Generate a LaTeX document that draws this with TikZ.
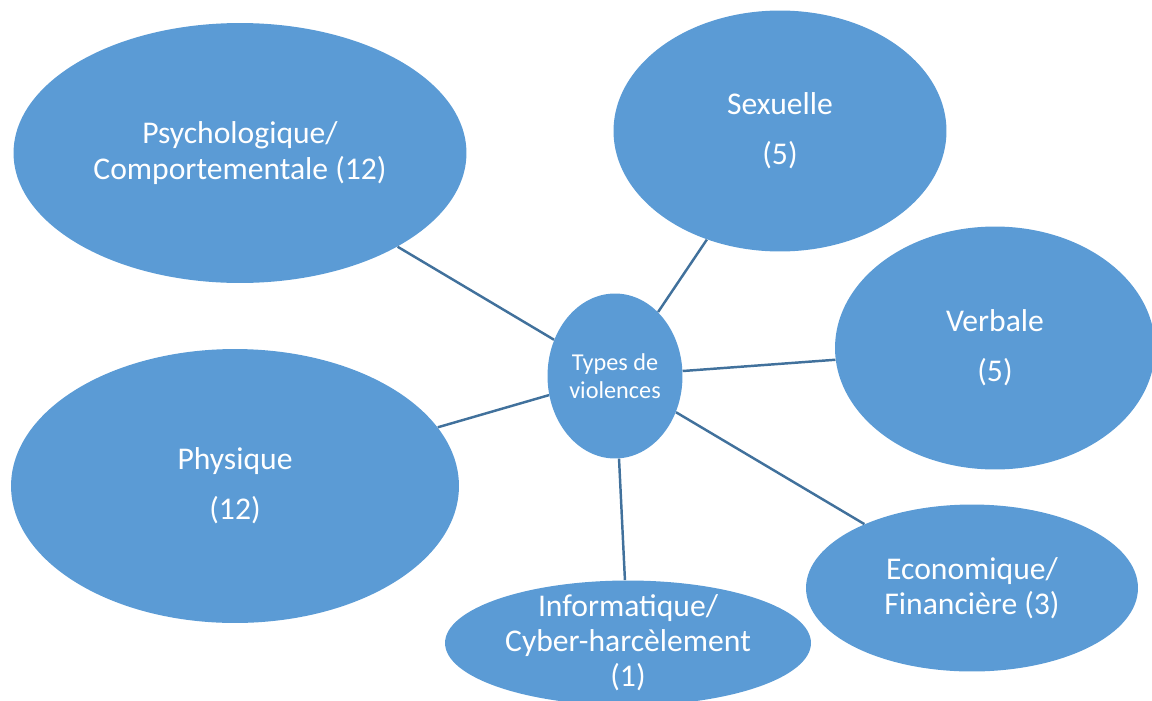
\documentclass[tikz,border=0pt]{standalone}
\usepackage{fontspec}
\setmainfont{Carlito}
\usepackage{xcolor}
\usetikzlibrary{shapes.geometric}
\definecolor{bulle}{HTML}{5B9BD5}
\definecolor{trait}{HTML}{41719C}

\begin{document}
\begin{tikzpicture}[x=0.02cm, y=-0.02cm,
    bulle/.style={ellipse, fill=bulle, inner sep=0pt},
    etiq/.style={text=white, align=center, font=\fontsize{18}{20}\selectfont},
    lien/.style={draw=trait, line width=1.4pt}]
				  \useasboundingbox (0,0) rectangle (1152,700);
				  \node[bulle, minimum width=9.06cm, minimum height=5.2cm] (psycho) at (240,153) {};
				  \node[bulle, minimum width=6.66cm, minimum height=4.82cm] (sexuelle) at (780,131) {};
				  \node[bulle, minimum width=6.4cm, minimum height=4.86cm] (verbale) at (995,348) {};
				  \node[bulle, minimum width=8.96cm, minimum height=5.48cm] (physique) at (235,486) {};
				  \node[bulle, minimum width=7.32cm, minimum height=2.5cm] (info) at (628,643) {};
				  \node[bulle, minimum width=6.64cm, minimum height=3.34cm] (eco) at (972,588) {};
				  \node[bulle, minimum width=2.7cm, minimum height=3.3cm] (centre) at (615,376) {};
				  \node[etiq] (psychoT) at (psycho) {Psychologique/\\Comportementale (12)};
				  \node[etiq] (sexuelleT) at (sexuelle) {Sexuelle\\[8.5pt](5)};
				  \node[etiq] (verbaleT) at (verbale) {Verbale\\[8.5pt](5)};
				  \node[etiq] (physiqueT) at (physique) {Physique\\[8.5pt](12)};
				  \node[etiq] (infoT) at (info) {Informatique/\\Cyber-harcèlement\\(1)};
				  \node[etiq] (ecoT) at (eco) {Economique/\\Financière (3)};
				  \node[etiq, font=\fontsize{13.8}{16}\selectfont] (centreT) at (centre) {Types de\\violences};
				  \draw[lien] (centre) -- (psycho);
				  \draw[lien] (centre) -- (sexuelle);
				  \draw[lien] (centre) -- (verbale);
				  \draw[lien] (centre) -- (physique);
				  \draw[lien] (centre) -- (info);
				  \draw[lien] (centre) -- (eco);
				\end{tikzpicture}
\end{document}
